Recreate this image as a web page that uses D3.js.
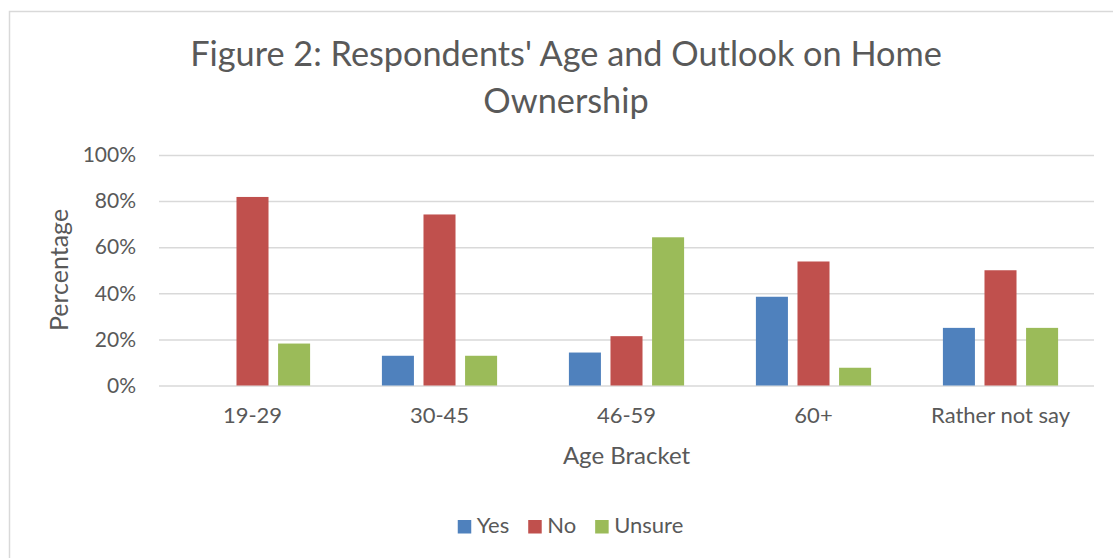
<!DOCTYPE html>
<html>
<head>
<meta charset="utf-8">
<script src="https://cdn.jsdelivr.net/npm/d3@7"></script>
<style>
  body { margin: 0; background: #fff; }
  text { font-family: Lato, "Open Sans", sans-serif; fill: #595959; }
</style>
</head>
<body>
<svg id="chart" width="1113" height="558"></svg>
<script>
// data
const categories = ["19-29", "30-45", "46-59", "60+", "Rather not say"];
const seriesNames = ["Yes", "No", "Unsure"];
const yesValues = [0, 12.9, 14.3, 38.5, 25];
const noValues = [81.8, 74.2, 21.4, 53.8, 50];
const unsureValues = [18.2, 12.9, 64.3, 7.7, 25];
const yTicks = [0, 20, 40, 60, 80, 100];
const colors = ["#4F81BD", "#C0504D", "#9BBB59"];

const svg = d3.select("#chart");

// outer chart border
svg.append("rect")
    .attr("x", 9.5)
    .attr("y", 11.5)
    .attr("width", 1120)
    .attr("height", 570)
    .attr("fill", "none")
    .attr("stroke", "#d9d9d9")
    .attr("stroke-width", 1.5);

const plotLeft = 159, plotRight = 1094, plotTop = 155, plotBottom = 385.5;

const x0 = d3.scaleBand()
    .domain(categories)
    .range([plotLeft, plotRight])
    .paddingInner(0.384)
    .paddingOuter(0.192);

const x1 = d3.scaleBand()
    .domain(seriesNames)
    .range([0, x0.bandwidth()])
    .paddingInner(0.23);

const y = d3.scaleLinear()
    .domain([0, 100])
    .range([plotBottom, plotTop]);

// gridlines + y tick labels
const yAxis = svg.append("g")
    .attr("transform", "translate(" + plotLeft + ",0)")
    .call(d3.axisLeft(y)
        .tickValues(yTicks)
        .tickSize(-(plotRight - plotLeft))
        .tickPadding(23)
        .tickFormat(d => d + "%"));
yAxis.select(".domain").remove();
yAxis.selectAll("line")
    .attr("stroke", "#d9d9d9")
    .attr("stroke-width", 1.5);
yAxis.selectAll("text")
    .attr("font-size", "21px")
    .attr("fill", "#595959")
    .style("font-family", "Lato, sans-serif");

// bars
const rows = categories.map((c, i) => ({
    cat: c,
    vals: [yesValues[i], noValues[i], unsureValues[i]]
}));

const groups = svg.append("g").selectAll("g")
    .data(rows)
    .enter()
    .append("g")
    .attr("transform", d => "translate(" + x0(d.cat) + ",0)");

groups.selectAll("rect")
    .data(d => d.vals.map((v, j) => ({ name: seriesNames[j], v: v, color: colors[j] })))
    .enter()
    .append("rect")
    .attr("x", d => x1(d.name))
    .attr("y", d => y(d.v))
    .attr("width", x1.bandwidth())
    .attr("height", d => y(0) - y(d.v))
    .attr("fill", d => d.color);

// x labels
const xAxis = svg.append("g")
    .attr("transform", "translate(0," + plotBottom + ")")
    .call(d3.axisBottom(x0).tickSize(0).tickPadding(22));
xAxis.select(".domain").remove();
xAxis.selectAll("text")
    .attr("font-size", "22px")
    .attr("fill", "#595959")
    .style("font-family", "Lato, sans-serif");

// axis titles
svg.append("text")
    .attr("transform", "translate(68,270) rotate(-90)")
    .attr("text-anchor", "middle")
    .attr("font-size", "25px")
    .text("Percentage");

svg.append("text")
    .attr("x", (plotLeft + plotRight) / 2)
    .attr("y", 464)
    .attr("text-anchor", "middle")
    .attr("font-size", "24px")
    .text("Age Bracket");

// title, two lines, fitted to the reference width
const titleLines = ["Figure 2: Respondents' Age and Outlook on Home", "Ownership"];
const title = svg.append("text")
    .attr("text-anchor", "middle")
    .attr("font-size", "32px");
title.selectAll("tspan")
    .data(titleLines)
    .enter()
    .append("tspan")
    .attr("x", 566)
    .attr("y", (d, i) => 66 + i * 47)
    .text(d => d);
const w = title.select("tspan").node().getComputedTextLength();
title.attr("font-size", (32 * 752 / w) + "px");

// legend
const legend = svg.append("g");
let lx = 0;
seriesNames.forEach((name, i) => {
    legend.append("rect")
        .attr("x", lx)
        .attr("y", 520)
        .attr("width", 13.5)
        .attr("height", 13.5)
        .attr("fill", colors[i]);
    const t = legend.append("text")
        .attr("x", lx + 19)
        .attr("y", 533)
        .attr("font-size", "22px")
        .text(name);
    lx += 19 + t.node().getComputedTextLength() + 19;
});
legend.attr("transform", "translate(" + (570.5 - (lx - 19) / 2) + ",0)");
</script>
</body>
</html>
